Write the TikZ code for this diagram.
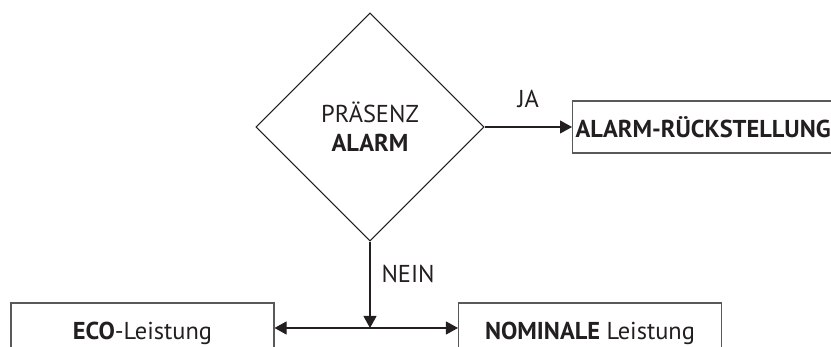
\documentclass[tikz,border=0pt]{standalone}
\usepackage{fontspec}
\setmainfont{PT Sans}
\usetikzlibrary{arrows.meta,positioning,shapes.geometric}
\definecolor{LineDark}{HTML}{231F20}
\definecolor{BoxEdge}{HTML}{58595B}

\begin{document}
\begin{tikzpicture}[
        font=\fontsize{13.9}{16.5}\selectfont,
        decision/.style={
            diamond,
            draw=LineDark,
            line width=0.6pt,
            minimum width=4.56cm,
            minimum height=4.56cm,
            inner sep=0pt,
            align=center,
            text=LineDark
        },
        box/.style={
            draw=BoxEdge,
            line width=0.6pt,
            minimum width=5.26cm,
            minimum height=1.2cm,
            inner sep=2pt,
            text=LineDark
        },
        arrow/.style={-{Triangle[length=2.4mm, width=2.6mm]}, line width=0.6pt, draw=LineDark},
        lbl/.style={text=LineDark, inner sep=2pt}
    ]
        \useasboundingbox (0,0) rectangle (16.62,6.94);

        \node[decision] (alarm) at (7.40,4.40) {PRÄSENZ\\\textbf{ALARM}};
        \node[box, anchor=west, text width=6.2cm, align=left, minimum height=1.04cm, inner xsep=0.06cm] (reset) at (11.44,4.40) {\textbf{ALARM-RÜCKSTELLUNG}};
        \node[box] (eco) at (2.85,0.28) {\textbf{ECO}-Leistung};
        \node[box] (nominal) at (11.80,0.28) {\textbf{NOMINALE} Leistung};
        \coordinate (split) at (7.40,0.38);

        \draw[arrow] (alarm.east) -- node[lbl, above=0.3cm] {JA} (reset.west);
        \draw[arrow] (alarm.south) -- node[lbl, pos=0.37, right=0.15cm] {NEIN} (split);
        \draw[arrow] (split) -- (nominal.west |- split);
        \draw[arrow] (split) -- (eco.east |- split);
\end{tikzpicture}
\end{document}
